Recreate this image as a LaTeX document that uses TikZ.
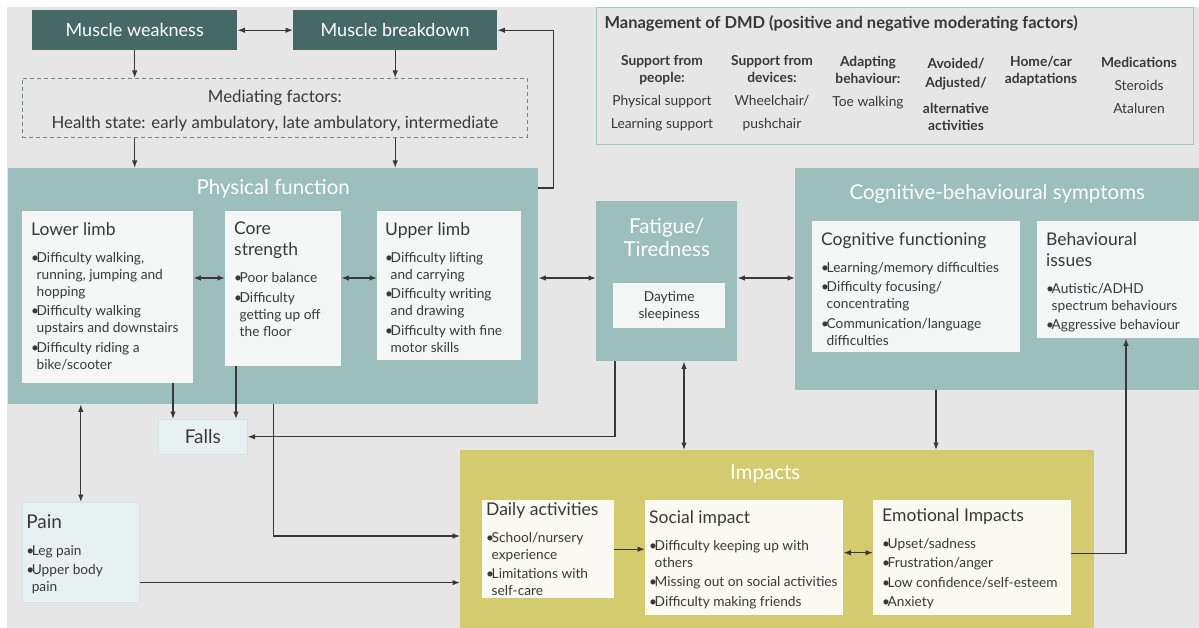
\documentclass[tikz,border=0pt]{standalone}
\usepackage{fontspec}
\setmainfont{Lato}
\usetikzlibrary{arrows.meta,positioning,calc}
\definecolor{canvas}{HTML}{E6E6E6}
\definecolor{ink}{HTML}{383838}
\definecolor{deepteal}{HTML}{466867}
\definecolor{panelteal}{HTML}{9CBEBD}
\definecolor{impactfill}{HTML}{D3CB6E}
\definecolor{cardfill}{HTML}{F4F7F6}
\definecolor{impcard}{HTML}{FAFAF2}
\definecolor{pale}{HTML}{E8F1F1}
\definecolor{paleline}{HTML}{D4E3E3}
\definecolor{dashline}{HTML}{6E8B8A}
\definecolor{mgline}{HTML}{A3C6C3}
\newcommand{\bul}[1]{\par\hangindent=5.5pt\hangafter=1\noindent
  \makebox[5.5pt][l]{\textbullet}\begingroup\let\\\newline#1\endgroup}
\newcommand{\cardtext}[4]{\parbox[c][#2][t]{#1}{\makebox[0pt][l]{\parbox[t]{300pt}{\raggedright
  \fontsize{13.7}{17}\selectfont{\fontsize{17.5}{21}\selectfont #3\par}\parskip=2.5pt\vspace{7.5pt}#4}}}}
\newcommand{\paneltitle}[3]{\parbox[c][#2][t]{#1}{\centering\fontsize{20.5}{23}\selectfont #3}}
\tikzset{
  arr/.style={-{Latex[length=7.5pt,width=5.5pt]}, line width=1.2pt, draw=ink},
  darr/.style={{Latex[length=7.5pt,width=5.5pt]}-{Latex[length=7.5pt,width=5.5pt]}, line width=1.2pt, draw=ink},
  figbase/.style={
    font=\fontsize{13.7}{17}\selectfont,
    text=ink,
  },
  topbox/.style={anchor=north west, fill=deepteal, text=white, inner sep=0pt,
    font=\fontsize{18}{21}\selectfont},
  medbox/.style={anchor=north west, draw=dashline, dash pattern=on 4pt off 3pt,
    line width=0.9pt, align=center, inner sep=0pt, font=\fontsize{16.8}{20}\selectfont},
  mgbox/.style={anchor=north west, draw=mgline, line width=1pt, inner xsep=8pt, inner ysep=8pt},
  mgcol/.style={anchor=north, align=center, inner sep=0pt, font=\fontsize{13.8}{17}\selectfont},
  panel/.style={anchor=north west, fill=panelteal, text=white, inner xsep=8pt, inner ysep=11pt},
  impactpanel/.style={panel, fill=impactfill},
  card/.style={anchor=north west, fill=cardfill, text=ink, inner xsep=9pt, inner ysep=11pt},
  impactcard/.style={card, fill=impcard},
  palebox/.style={anchor=north west, fill=pale, draw=paleline, line width=0.6pt, text=ink},
}

\begin{document}
\begin{tikzpicture}[x=1pt, y=-1pt, figbase]
  \useasboundingbox (0,0) rectangle (1199,628);
  \fill[canvas] (7,7) rectangle (1199,628);

  % causes
  \node[topbox, minimum width=205pt, minimum height=40pt] (mw) at (32,10) {Muscle weakness};
  \node[topbox, minimum width=204pt, minimum height=40pt] (mb) at (293,10) {Muscle breakdown};
  \node[medbox, minimum width=505pt, minimum height=59pt] (med) at (22,78)
    {\rule{0pt}{17.5pt}Mediating factors:\\[6pt]Health state: early ambulatory, late ambulatory, intermediate};

  % management
  \node[mgbox] (mg) at (596,7) {\parbox[c][121pt][t]{581pt}{\bfseries\fontsize{16.5}{19}\selectfont
    Management of DMD (positive and negative moderating factors)}};
  \node[mgcol] (mg1) at (662,55) {\textbf{Support from}\\\textbf{people:}\\[6pt]Physical support\\[6pt]Learning support};
  \node[mgcol] (mg2) at (772,55) {\textbf{Support from}\\\textbf{devices:}\\[6pt]Wheelchair/\\[6pt]pushchair};
  \node[mgcol] (mg3) at (868,56) {\textbf{Adapting}\\\textbf{behaviour:}\\[6pt]Toe walking};
  \node[mgcol] (mg4) at (956,58) {\textbf{Avoided/}\\[2pt]\textbf{Adjusted/}\\[9pt]\textbf{alternative}\\\textbf{activities}};
  \node[mgcol] (mg5) at (1041,56) {\textbf{Home/car}\\\textbf{adaptations}};
  \node[mgcol] (mg6) at (1139,57) {\textbf{Medications}\\[6pt]Steroids\\[6pt]Ataluren};

  % physical function
  \node[panel] (phys) at (8,168) {\paneltitle{514pt}{214pt}{Physical function}};
  \node[card] (lower) at (22,211) {\cardtext{153pt}{150pt}{Lower limb}{%
    \bul{Difficulty walking,\\running, jumping and\\hopping}
    \bul{Difficulty walking\\upstairs and downstairs}
    \bul{Difficulty riding a\\bike/scooter}}};
  \node[card] (core) at (225,211) {\cardtext{98pt}{133pt}{Core\\strength}{%
    \bul{Poor balance}
    \bul{Difficulty\\getting up off\\the floor}}};
  \node[card, inner xsep=8pt] (upper) at (377,211) {\cardtext{128pt}{127pt}{Upper limb}{%
    \bul{Difficulty lifting\\and carrying}
    \bul{Difficulty writing\\and drawing}
    \bul{Difficulty with fine\\motor skills}}};

  \node[palebox, minimum width=89pt, minimum height=35pt, font=\fontsize{19}{22}\selectfont] (falls) at (158,419) {Falls};
  \node[palebox, inner xsep=4pt, inner ysep=12pt] (pain) at (22,502) {\cardtext{109pt}{76pt}{\fontsize{19}{22}\selectfont Pain}{%
    \bul{Leg pain}
    \bul{Upper body\\pain}}};

  % fatigue
  \node[panel, inner ysep=17pt] (fatigue) at (596,201) {\paneltitle{125pt}{126pt}{Fatigue/\\Tiredness}};
  \node[card, minimum width=112pt, minimum height=45pt, inner sep=0pt, align=center] (day) at (613,283)
    {Daytime\\sleepiness};

  % cognitive-behavioural
  \node[panel, inner ysep=16pt] (cogp) at (795,168) {\paneltitle{388pt}{190pt}{Cognitive-behavioural symptoms}};
  \node[card] (cogf) at (812,221) {\cardtext{190pt}{109pt}{Cognitive functioning}{%
    \bul{Learning/memory difficulties}
    \bul{Difficulty focusing/\\concentrating}
    \bul{Communication/language\\difficulties}}};
  \node[card] (behav) at (1037,221) {\cardtext{144pt}{95pt}{Behavioural\\issues}{%
    \bul{Autistic/ADHD\\spectrum behaviours}
    \bul{Aggressive behaviour}}};

  % impacts
  \node[impactpanel, inner ysep=15pt] (impacts) at (460,450) {\paneltitle{618pt}{148pt}{\hspace*{-24pt}Impacts}};
  \node[impactcard, inner xsep=4pt, inner ysep=2pt] (daily) at (482,500) {\cardtext{124pt}{94pt}{Daily activities}{%
    \bul{School/nursery\\experience}
    \bul{Limitations with\\self-care}}};
  \node[impactcard, inner xsep=4pt, inner ysep=10pt] (social) at (645,500) {\cardtext{190pt}{95pt}{Social impact}{%
    \bul{Difficulty keeping up with\\others}
    \bul{Missing out on social activities}
    \bul{Difficulty making friends}}};
  \node[impactcard, inner ysep=8pt] (emo) at (873,500) {\cardtext{180pt}{99pt}{Emotional Impacts}{%
    \bul{Upset/sadness}
    \bul{Frustration/anger}
    \bul{Low confidence/self-esteem}
    \bul{Anxiety}}};

  % connectors
  \coordinate (pfrow) at (0,278);
  \draw[darr] (mw) -- (mb);
  \draw[arr] (mw) -- (mw |- med.north);
  \draw[arr] (mb) -- (mb |- med.north);
  \draw[arr] (med.south -| mw) -- (phys.north -| mw);
  \draw[arr] (med.south -| mb) -- (phys.north -| mb);
  \draw[arr] ([yshift=-20pt]phys.north east) -- ++(15,0) |- (mb.east);
  \draw[darr] (lower.east |- pfrow) -- (core.west |- pfrow);
  \draw[darr] (core.east |- pfrow) -- (upper.west |- pfrow);
  \draw[darr] (phys.east |- pfrow) -- (fatigue.west |- pfrow);
  \draw[darr] (fatigue.east |- pfrow) -- (cogp.west |- pfrow);

  \coordinate (fallsL) at ($(falls.north west)+(15,0)$);
  \coordinate (fallsR) at ($(falls.north west)+(78,0)$);
  \draw[arr] (lower.south -| fallsL) -- (fallsL);
  \draw[arr] (core.south -| fallsR) -- (fallsR);
  \coordinate (fatL) at ($(fatigue.south west)+(19,0)$);
  \draw[arr] (fatL) |- (falls.east);
  \coordinate (fatR) at ($(fatigue.south west)+(88,0)$);
  \draw[darr] (fatR) -- (fatR |- impacts.north);
  \coordinate (cogdn) at ($(cogp.south west)+(141,0)$);
  \draw[arr] (cogdn) -- (cogdn |- impacts.north);

  \coordinate (implo) at ($(impacts.north west)+(0,86)$);
  \draw[arr] (phys.south) |- (implo);
  \draw[darr] (pain.north |- phys.south) -- (pain.north);
  \coordinate (painout) at ($(pain.south east)+(0,-20)$);
  \draw[arr] (painout) -- (painout -| impacts.west);
  \draw[arr] (daily.east) -- (daily.east -| social.west);
  \draw[darr] ([yshift=5pt]social.east) -- ([yshift=5pt]emo.west);
  \coordinate (bhin) at ($(behav.south west)+(89,0)$);
  \draw[arr] ([yshift=4pt]emo.east) -| (bhin);
\end{tikzpicture}
\end{document}
